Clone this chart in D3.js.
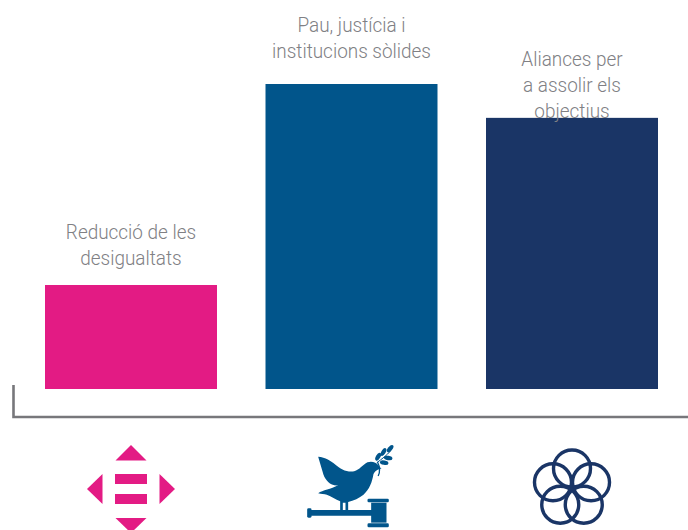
<!DOCTYPE html>
<html><head><meta charset="utf-8">
<script src="https://cdn.jsdelivr.net/npm/d3@7"></script>
<style>html,body{margin:0;padding:0;background:#fff;overflow:hidden}svg{display:block}</style>
</head><body><svg id="c" width="688" height="530"></svg>
<script>
const categories = ["Reducció de les desigualtats","Pau, justícia i institucions sòlides","Aliances per a assolir els objectius"];
const labelLines = [["Reducció de les","desigualtats"],["Pau, justícia i","institucions sòlides"],["Aliances per","a assolir els","objectius"]];
const values = [34.1,100,88.9];
const colors = ["#e31b84","#01558b","#1a3566"];

const svg = d3.select("#c");
const x = d3.scaleBand().domain(categories).range([45,658]).paddingInner(0.22).paddingOuter(0);
const y = d3.scaleLinear().domain([0,100]).range([389,84]);

// axis frame
svg.append("path").attr("d","M13.5 385V417H688").attr("fill","none").attr("stroke","#77777b").attr("stroke-width",2.6);

const cx = (c)=> x(c)+x.bandwidth()/2;
svg.selectAll("rect.bar").data(categories).join("rect").attr("class","bar")
  .attr("x",d=>x(d)).attr("width",x.bandwidth())
  .attr("y",(d,i)=>y(values[i])).attr("height",(d,i)=>y(0)-y(values[i]))
  .attr("fill",(d,i)=>colors[i]);

// labels sit above bars, slightly condensed
const labelOffset = [45.5,52,52];
categories.forEach((c,i)=>{
  labelLines[i].forEach((l,j)=>{
    svg.append("text").attr("text-anchor","middle").attr("font-family","Roboto, sans-serif")
      .attr("font-weight",300).attr("font-size",20.5).attr("fill","#808084")
      .attr("transform",`translate(${cx(c)},${y(values[i])-labelOffset[i]+j*26}) scale(0.924,1)`)
      .text(l);
  });
});

// icon 1: arrows and equals
const g1 = svg.append("g").attr("transform",`translate(${cx(categories[0])},489)`).attr("fill",colors[0]);
g1.append("path").attr("d","M0 -44L15.5 -28.5H-15.5Z");
g1.append("path").attr("d","M0 44L15.5 29H-15.5Z");
g1.append("path").attr("d","M-44 0L-28.5 -15V15Z");
g1.append("path").attr("d","M44 0L28.5 -15V15Z");
g1.append("rect").attr("x",-16).attr("y",-15).attr("width",32).attr("height",10);
g1.append("rect").attr("x",-16).attr("y",5).attr("width",32).attr("height",10);

// icon 2: dove on gavel (drawn in zoomed local units)
const g2 = svg.append("g").attr("transform",`translate(${cx(categories[1])-62},430) scale(0.3333)`).attr("fill",colors[1]);
g2.append("path").attr("d","M86 80C108 82 124 92 138 104C152 116 172 128 194 124C210 120 220 104 234 97C246 93 260 96 268 108L276 116C268 116 258 120 252 132C248 156 240 178 222 194C210 204 192 212 176 216L176 240H168L168 218H160L160 240H152L152 214C138 208 126 200 112 194C104 192 96 192 86 190C100 180 124 178 146 166C122 168 108 150 102 134C96 116 92 98 86 80Z");
g2.append("rect").attr("x",62).attr("y",240).attr("width",190).attr("height",17).attr("rx",3);
g2.append("rect").attr("x",53).attr("y",235).attr("width",13).attr("height",28).attr("rx",4);
g2.append("rect").attr("x",245).attr("y",218).attr("width",46).attr("height",60);
g2.append("rect").attr("x",234).attr("y",206).attr("width",64).attr("height",11).attr("rx",4);
g2.append("rect").attr("x",234).attr("y",280).attr("width",64).attr("height",12).attr("rx",4);
g2.append("path").attr("d","M264 96C272 112 272 126 266 138").attr("fill","none").attr("stroke",colors[1]).attr("stroke-width",4);
g2.append("path").attr("d","M262 98C276 88 292 76 304 62").attr("fill","none").attr("stroke",colors[1]).attr("stroke-width",3);
[[266,80,-60],[282,66,-60],[302,56,-50],[296,84,10],[284,98,10]].forEach(l=>{
  g2.append("ellipse").attr("cx",l[0]).attr("cy",l[1]).attr("rx",13).attr("ry",6.5).attr("transform",`rotate(${l[2]} ${l[0]} ${l[1]})`);
});

// icon 3: five interlocked rings
const g3 = svg.append("g").attr("transform",`translate(${cx(categories[2])},488.5)`).attr("fill","none").attr("stroke",colors[2]).attr("stroke-width",3.4);
d3.range(5).forEach(k=>{
  const a = -Math.PI/2 + k*2*Math.PI/5;
  g3.append("circle").attr("cx",20*Math.cos(a)).attr("cy",20*Math.sin(a)).attr("r",18.5);
});
</script></body></html>
